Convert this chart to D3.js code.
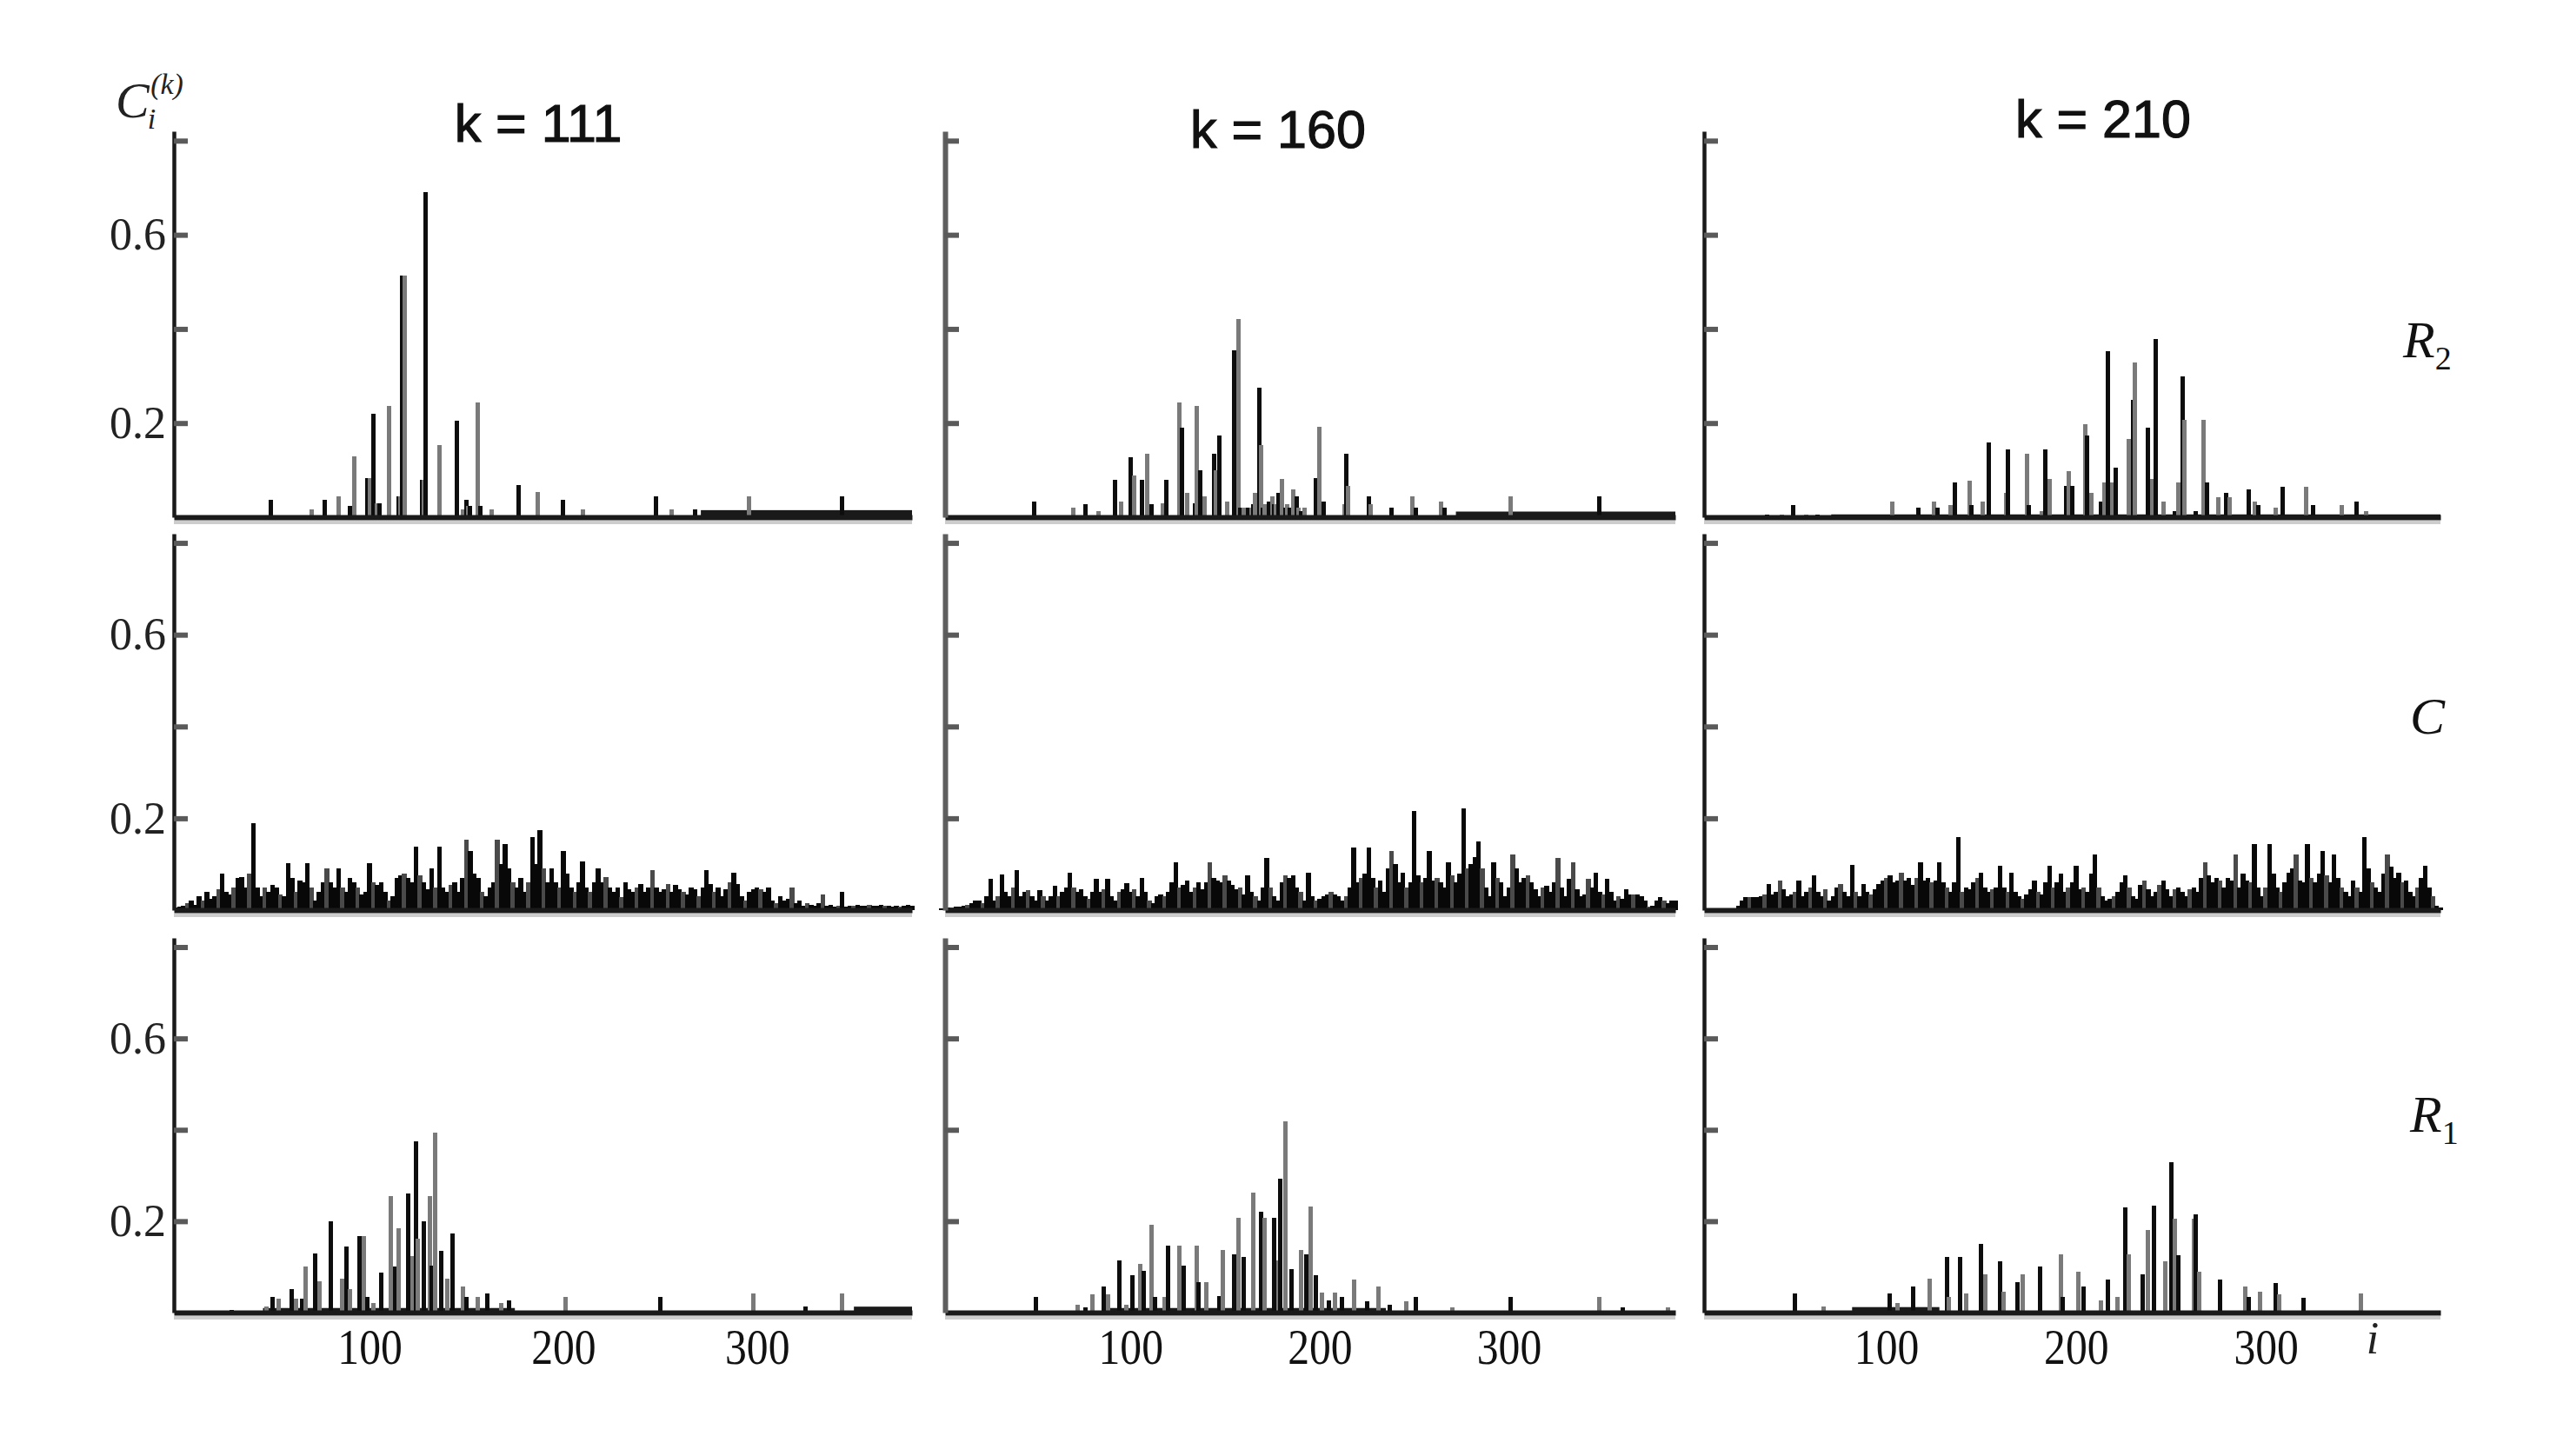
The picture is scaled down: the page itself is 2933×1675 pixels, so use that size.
<!DOCTYPE html>
<html><head><meta charset="utf-8">
<script src="https://cdn.jsdelivr.net/npm/d3@7"></script>
<style>
html,body{margin:0;padding:0;background:#fff;}
svg{display:block;}
</style></head><body>
<svg id="chart" width="2933" height="1675"></svg>
<script>
// ---------------- DATA ----------------
const columnTitles = ["k = 111", "k = 160", "k = 210"];
const rowLabels = [["R", "2"], ["C", ""], ["R", "1"]];
const yTickValues = [0.2, 0.4, 0.6, 0.8];
const yTickLabelValues = [0.2, 0.6];
const xTickValues = [100, 200, 300];
const xDomains = [[-1, 380], [2, 388], [4, 392]];
const yDomain = [0, 0.82];
const cStep = 2; // C-row values are given for i = 0, 2, 4, ...

// Row R2 : [i, C_i]
const r2K111 = [[49,0.037],[70,0.017],[77,0.037],[84,0.045],[90,0.024],[92,0.13],[99,0.083],[100,0.083],[102,0.22],[104,0.03],[105,0.03],[110,0.237],[115,0.045],[116,0.045],[117,0.513],[118,0.513],[127,0.08],[128,0.08],[129,0.69],[136,0.153],[145,0.205],[148,0.017],[150,0.037],[151,0.024],[152,0.024],[156,0.244],[157,0.024],[163,0.017],[177,0.069],[187,0.053],[200,0.037],[210,0.017],[248,0.045],[256,0.017],[268,0.017],[296,0.045],[344,0.045]];
const r2K111Floor = [[271, 380, 0.015]];
const r2K160 = [[49,0.034],[70,0.02],[76,0.027],[83,0.013],[92,0.08],[95,0.034],[100,0.128],[102,0.089],[106,0.08],[109,0.135],[111,0.027],[117,0.029],[119,0.08],[126,0.243],[127,0.19],[130,0.052],[134,0.03],[135,0.236],[137,0.099],[139,0.044],[144,0.135],[145,0.1],[147,0.174],[151,0.034],[155,0.354],[157,0.422],[158,0.02],[160,0.02],[162,0.02],[164,0.02],[165,0.027],[166,0.052],[168,0.275],[169,0.153],[170,0.02],[171,0.027],[173,0.034],[175,0.044],[176,0.027],[177,0.027],[178,0.052],[180,0.081],[182,0.02],[183,0.027],[184,0.02],[186,0.06],[188,0.044],[189,0.02],[190,0.013],[192,0.02],[198,0.083],[200,0.192],[202,0.034],[213,0.027],[214,0.135],[215,0.067],[226,0.044],[227,0.027],[238,0.02],[249,0.044],[251,0.02],[264,0.034],[266,0.02],[301,0.044],[348,0.044]];
const r2K160Floor = [[272, 388, 0.012]];
const r2K210 = [[37,0.006],[45,0.006],[51,0.026],[58,0.006],[64,0.006],[103,0.034],[117,0.02],[125,0.034],[127,0.02],[134,0.026],[136,0.073],[144,0.078],[145,0.026],[151,0.034],[154,0.159],[163,0.051],[164,0.144],[174,0.134],[175,0.026],[182,0.013],[184,0.144],[186,0.082],[195,0.066],[196,0.098],[198,0.066],[205,0.198],[206,0.174],[208,0.051],[213,0.034],[215,0.073],[217,0.353],[219,0.073],[221,0.105],[228,0.167],[230,0.25],[231,0.328],[238,0.191],[240,0.082],[242,0.378],[246,0.034],[252,0.013],[254,0.073],[256,0.299],[257,0.207],[263,0.013],[267,0.207],[269,0.073],[275,0.042],[279,0.051],[281,0.042],[291,0.059],[294,0.034],[296,0.026],[305,0.02],[309,0.065],[321,0.065],[325,0.026],[340,0.026],[348,0.034],[353,0.013]];
const r2K210Floor = [[71, 392, 0.006]];

// Row C : C_i for i = 0, 2, 4, ...
const cK111 = [0.005,0.008,0.01,0.015,0.02,0.012,0.03,0.02,0.04,0.025,0.03,0.045,0.08,0.04,0.035,0.05,0.07,0.072,0.05,0.08,0.19,0.05,0.03,0.05,0.04,0.055,0.05,0.035,0.03,0.103,0.07,0.04,0.065,0.06,0.103,0.05,0.02,0.04,0.06,0.09,0.06,0.05,0.09,0.05,0.04,0.07,0.06,0.05,0.035,0.04,0.103,0.06,0.055,0.06,0.04,0.02,0.03,0.07,0.075,0.08,0.07,0.06,0.1375,0.075,0.06,0.045,0.09,0.05,0.1375,0.05,0.04,0.055,0.06,0.04,0.07,0.153,0.128,0.08,0.07,0.04,0.03,0.05,0.06,0.153,0.1,0.144,0.09,0.06,0.05,0.07,0.04,0.06,0.16,0.1,0.175,0.09,0.06,0.09,0.06,0.05,0.128,0.08,0.05,0.04,0.06,0.106,0.05,0.04,0.06,0.09,0.06,0.072,0.05,0.04,0.05,0.028,0.06,0.045,0.04,0.05,0.056,0.04,0.05,0.0875,0.05,0.04,0.045,0.056,0.04,0.055,0.045,0.04,0.035,0.05,0.045,0.03,0.05,0.0875,0.056,0.04,0.05,0.03,0.045,0.06,0.081,0.056,0.03,0.02,0.04,0.045,0.05,0.045,0.04,0.05,0.02,0.015,0.03,0.02,0.025,0.05,0.015,0.02,0.01,0.015,0.012,0.01,0.015,0.035,0.01,0.012,0.008,0.01,0.04,0.008,0.01,0.01,0.012,0.01,0.01,0.012,0.01,0.01,0.012,0.01,0.01,0.008,0.01,0.008,0.01,0.012,0.01];
const cK160 = [0.003,0.003,0.005,0.005,0.008,0.008,0.01,0.012,0.015,0.02,0.021,0.015,0.03,0.068,0.02,0.03,0.078,0.04,0.03,0.05,0.087,0.03,0.04,0.043,0.03,0.02,0.043,0.03,0.02,0.03,0.053,0.03,0.04,0.05,0.081,0.05,0.04,0.045,0.03,0.025,0.04,0.068,0.04,0.045,0.068,0.03,0.02,0.04,0.045,0.059,0.04,0.045,0.03,0.071,0.04,0.02,0.015,0.03,0.035,0.03,0.04,0.06,0.104,0.05,0.055,0.065,0.04,0.05,0.06,0.045,0.06,0.104,0.07,0.065,0.06,0.075,0.065,0.055,0.045,0.05,0.035,0.075,0.04,0.03,0.02,0.05,0.113,0.05,0.03,0.02,0.06,0.075,0.07,0.075,0.05,0.04,0.02,0.081,0.03,0.02,0.025,0.03,0.035,0.04,0.035,0.03,0.02,0.03,0.05,0.137,0.06,0.07,0.08,0.137,0.07,0.05,0.065,0.04,0.09,0.128,0.1,0.06,0.081,0.05,0.06,0.215,0.075,0.06,0.07,0.128,0.065,0.07,0.06,0.05,0.104,0.075,0.06,0.08,0.222,0.09,0.1,0.115,0.15,0.09,0.05,0.03,0.104,0.07,0.06,0.03,0.05,0.121,0.09,0.06,0.07,0.075,0.06,0.045,0.03,0.05,0.053,0.04,0.06,0.113,0.05,0.03,0.068,0.104,0.045,0.03,0.035,0.068,0.05,0.081,0.04,0.035,0.068,0.04,0.02,0.03,0.025,0.045,0.035,0.034,0.034,0.03,0.02,0.008,0.01,0.02,0.028,0.02,0.015,0.02,0.02];
const cK210 = [0,0,0,0,0,0,0,0,0,0,0,0.01,0.02,0.028,0.028,0.028,0.028,0.03,0.035,0.056,0.035,0.04,0.065,0.045,0.03,0.035,0.04,0.065,0.03,0.04,0.05,0.075,0.04,0.03,0.045,0.02,0.03,0.05,0.056,0.04,0.03,0.098,0.04,0.03,0.056,0.04,0.035,0.045,0.056,0.065,0.07,0.075,0.06,0.065,0.081,0.065,0.07,0.055,0.07,0.104,0.065,0.07,0.06,0.065,0.104,0.06,0.05,0.04,0.06,0.16,0.04,0.05,0.045,0.06,0.07,0.081,0.05,0.04,0.045,0.05,0.096,0.05,0.04,0.081,0.04,0.03,0.025,0.035,0.045,0.065,0.04,0.035,0.06,0.096,0.05,0.06,0.08,0.04,0.05,0.06,0.096,0.045,0.05,0.04,0.08,0.121,0.05,0.03,0.02,0.025,0.03,0.04,0.06,0.075,0.05,0.03,0.025,0.055,0.065,0.045,0.03,0.04,0.055,0.065,0.045,0.03,0.045,0.05,0.04,0.03,0.045,0.05,0.04,0.07,0.104,0.075,0.06,0.07,0.065,0.05,0.07,0.065,0.121,0.05,0.08,0.065,0.06,0.143,0.05,0.03,0.05,0.143,0.08,0.05,0.04,0.06,0.081,0.09,0.121,0.065,0.06,0.143,0.07,0.06,0.08,0.129,0.075,0.06,0.121,0.07,0.05,0.04,0.03,0.065,0.05,0.04,0.16,0.09,0.06,0.05,0.04,0.08,0.121,0.095,0.07,0.081,0.06,0.065,0.04,0.03,0.05,0.07,0.096,0.05,0.03,0.01,0.005];

// Row R1 : [i, C_i]
const r1K111 = [[29,0.006],[47,0.013],[50,0.035],[53,0.03],[60,0.052],[62,0.03],[65,0.03],[67,0.1],[72,0.129],[74,0.068],[80,0.2],[86,0.074],[88,0.145],[90,0.052],[95,0.168],[97,0.168],[99,0.035],[102,0.02],[106,0.087],[111,0.255],[113,0.1],[115,0.184],[120,0.261],[122,0.123],[124,0.374],[125,0.161],[128,0.2],[131,0.255],[132,0.103],[134,0.394],[137,0.135],[140,0.074],[143,0.174],[148,0.058],[150,0.035],[156,0.035],[161,0.042],[168,0.02],[172,0.026],[201,0.035],[250,0.035],[298,0.042],[325,0.013],[344,0.042]];
const r1K111Floor = [[45, 175, 0.01], [350, 380, 0.013]];
const r1K160 = [[50,0.034],[72,0.017],[76,0.011],[80,0.04],[86,0.058],[88,0.04],[94,0.115],[98,0.017],[101,0.082],[105,0.107],[107,0.092],[111,0.192],[113,0.034],[118,0.034],[120,0.147],[126,0.147],[128,0.102],[135,0.147],[136,0.066],[140,0.066],[147,0.037],[149,0.137],[155,0.128],[157,0.208],[160,0.121],[165,0.263],[169,0.221],[171,0.208],[176,0.208],[178,0.115],[179,0.293],[182,0.419],[185,0.095],[190,0.137],[193,0.128],[195,0.232],[198,0.082],[201,0.043],[205,0.027],[208,0.043],[212,0.034],[218,0.072],[225,0.024],[231,0.058],[237,0.017],[246,0.024],[251,0.034],[270,0.011],[301,0.034],[348,0.034],[360,0.011],[384,0.011]];
const r1K160Floor = [[85, 235, 0.01]];
const r1K210 = [[52,0.042],[67,0.013],[102,0.042],[106,0.02],[114,0.058],[123,0.074],[132,0.122],[133,0.035],[139,0.122],[142,0.042],[150,0.151],[152,0.083],[160,0.112],[162,0.045],[169,0.067],[172,0.083],[181,0.1],[192,0.128],[193,0.035],[201,0.09],[204,0.058],[213,0.026],[217,0.072],[222,0.035],[226,0.231],[228,0.128],[235,0.083],[238,0.18],[241,0.234],[247,0.112],[250,0.33],[252,0.205],[254,0.125],[262,0.205],[263,0.215],[265,0.09],[276,0.072],[289,0.058],[291,0.035],[297,0.045],[305,0.065],[307,0.04],[320,0.033],[350,0.042]];
const r1K210Floor = [[82, 128, 0.012]];

// ---------------- LAYOUT ----------------
const colRange = [[200, 1049], [1087, 1927], [1960, 2807]];
const rowRange = [[595, 151], [1047, 614], [1510, 1079]];
const serif = "'Liberation Serif','Times New Roman',serif";
const sans = "'Liberation Sans',Arial,sans-serif";

const dense = d => d.map((v, j) => [j * cStep, v]);
const panels = [
  [{pts: r2K111, floor: r2K111Floor}, {pts: r2K160, floor: r2K160Floor}, {pts: r2K210, floor: r2K210Floor}],
  [{pts: dense(cK111), floor: [], dense: true}, {pts: dense(cK160), floor: [], dense: true}, {pts: dense(cK210), floor: [], dense: true}],
  [{pts: r1K111, floor: r1K111Floor}, {pts: r1K160, floor: r1K160Floor}, {pts: r1K210, floor: r1K210Floor}]
];

const svg = d3.select("#chart");
svg.append("rect").attr("width", 2933).attr("height", 1675).attr("fill", "#fff");

const shadeSparse = (d, j) => (j % 2 ? "#7a7a7a" : "#0d0d0d");
const shadeDense = (d, j) => (j % 4 === 3 ? "#4a4a4a" : "#080808");

panels.forEach((row, r) => {
  row.forEach((p, c) => {
    const x = d3.scaleLinear().domain(xDomains[c]).range(colRange[c]);
    const y = d3.scaleLinear().domain(yDomain).range(rowRange[r]);
    const g = svg.append("g");

    // light underline below axis
    g.append("line")
      .attr("x1", colRange[c][0]).attr("x2", colRange[c][1])
      .attr("y1", y(0) + 6).attr("y2", y(0) + 6)
      .attr("stroke", "#cdcdcd").attr("stroke-width", 4);

    // floors
    g.selectAll("rect.floor").data(p.floor).join("rect")
      .attr("class", "floor")
      .attr("x", d => x(d[0])).attr("width", d => x(d[1]) - x(d[0]))
      .attr("y", d => y(d[2])).attr("height", d => y(0) - y(d[2]))
      .attr("fill", "#1a1a1a");

    // spikes
    g.selectAll("line.spike").data(p.pts.filter(d => d[1] > 0)).join("line")
      .attr("class", "spike")
      .attr("x1", d => x(d[0])).attr("x2", d => x(d[0]))
      .attr("y1", y(0)).attr("y2", d => y(d[1]))
      .attr("stroke", p.dense ? shadeDense : shadeSparse)
      .attr("stroke-width", p.dense ? 5.4 : 5)
      .attr("shape-rendering", "crispEdges");

    // x axis
    const xa = d3.axisBottom(x)
      .tickValues(r === 2 ? xTickValues : [])
      .tickSize(0).tickSizeOuter(0).tickPadding(17)
      .tickFormat(d3.format("d"));
    const gx = g.append("g").attr("transform", `translate(0,${y(0)})`).call(xa);
    gx.select(".domain").attr("stroke", "#1a1a1a").attr("stroke-width", 6);
    gx.selectAll("text").attr("font-family", serif).attr("font-size", 54).attr("fill", "#111")
      .attr("transform", "scale(0.92,1.06)");

    // y axis (inward ticks)
    const ya = d3.axisRight(y).tickValues(yTickValues).tickSize(16).tickSizeOuter(0).tickFormat("");
    const gy = g.append("g").attr("transform", `translate(${colRange[c][0]},0)`).call(ya);
    gy.select(".domain").attr("stroke", c === 1 ? "#5e5e5e" : "#1a1a1a").attr("stroke-width", c === 1 ? 6 : 4.5);
    gy.selectAll(".tick line").attr("stroke", "#5a5a5a").attr("stroke-width", 6);

    // y tick labels on first column
    if (c === 0) {
      const yl = d3.axisLeft(y).tickValues(yTickLabelValues).tickSize(0).tickPadding(9)
        .tickFormat(d3.format(".1f"));
      const gl = g.append("g").attr("transform", `translate(${colRange[c][0]},0)`).call(yl);
      gl.select(".domain").remove();
      gl.selectAll("text").attr("font-family", serif).attr("font-size", 52).attr("fill", "#222");
    }
  });
});

// column titles
const titleX = [619, 1470, 2419];
const titleY = [163, 170, 158];
svg.selectAll("text.title").data(columnTitles).join("text")
  .attr("class", "title")
  .attr("x", (d, j) => titleX[j]).attr("y", (d, j) => titleY[j])
  .attr("text-anchor", "middle")
  .attr("font-family", sans).attr("font-size", 61).attr("fill", "#111")
  .attr("stroke", "#111").attr("stroke-width", 1.2)
  .attr("xml:space", "preserve")
  .text(d => d);

// row labels
const rowLabelX = [2764, 2772, 2772];
const rowLabelY = [411, 844, 1302];
rowLabels.forEach((lab, r) => {
  const t = svg.append("text")
    .attr("x", rowLabelX[r]).attr("y", rowLabelY[r])
    .attr("font-family", serif).attr("font-style", "italic")
    .attr("font-size", 60).attr("fill", "#111");
  t.append("tspan").text(lab[0]);
  if (lab[1]) t.append("tspan").attr("font-size", 38).attr("font-style", "normal").attr("dy", 14).text(lab[1]);
});

// y-axis label C_i^(k)
const yl = svg.append("text").attr("x", 133).attr("y", 135)
  .attr("font-family", serif).attr("font-style", "italic").attr("fill", "#222");
yl.append("tspan").attr("font-size", 58).text("C");
yl.append("tspan").attr("font-size", 34).attr("dy", 13).attr("dx", -2).text("i");
yl.append("tspan").attr("font-size", 34).attr("dy", -40).attr("dx", -6).text("(k)");

// x-axis variable i
svg.append("text").attr("x", 2729).attr("y", 1557).attr("text-anchor", "middle")
  .attr("font-family", serif).attr("font-style", "italic").attr("font-size", 52).attr("fill", "#222")
  .text("i");
</script>
</body></html>
